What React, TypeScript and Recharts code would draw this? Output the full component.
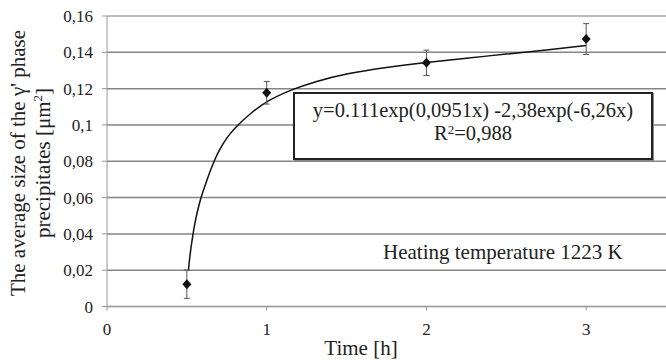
import { ComposedChart, Line, Scatter, ErrorBar, XAxis, YAxis, CartesianGrid, Label, ReferenceLine } from 'recharts';

// measured points (time [h], mean size [um^2], error)
const times = [0.5, 1, 2, 3];
const sizes = [0.0123, 0.1177, 0.1342, 0.1473];
const errors = [0.0078, 0.0062, 0.007, 0.0085];

// fitted curve
const fitTimes = [0.51, 0.52, 0.535, 0.55, 0.565, 0.585, 0.6, 0.625, 0.65, 0.675, 0.7, 0.75, 0.8, 0.9, 1.0, 1.15, 1.3, 1.5, 1.75, 2.0, 2.25, 2.5, 2.75, 3.0];
const fitSizes = [0.02, 0.029, 0.038, 0.046, 0.052, 0.059, 0.063, 0.0695, 0.0755, 0.081, 0.0857, 0.093, 0.0985, 0.1065, 0.1132, 0.1193, 0.1238, 0.1283, 0.1318, 0.1345, 0.1368, 0.139, 0.1413, 0.1437];

const xTicks = [0, 1, 2, 3];
const yTicks = [0, 0.02, 0.04, 0.06, 0.08, 0.1, 0.12, 0.14, 0.16];

const FONT = '"Liberation Serif", "Times New Roman", serif';
const TEXT = '#222';

const points = times.map((t, i) => ({ x: t, y: sizes[i], err: errors[i] }));
const curve = fitTimes.map((t, i) => ({ x: t, y: fitSizes[i] }));

const Diamond = (props: any) => {
  const { cx, cy } = props;
  return <path d={`M${cx},${cy - 5} L${cx + 4.5},${cy} L${cx},${cy + 5} L${cx - 4.5},${cy} Z`} fill="#111" />;
};

const YTitle = () => (
  <g fontFamily={FONT} fontSize={21} fill={TEXT}>
    <text transform="translate(25,163) rotate(-90)" textAnchor="middle">The average size of the γ' phase</text>
    <text transform="translate(50,163) rotate(-90)" textAnchor="middle">
      precipitates [μm<tspan dy={-8} fontSize={13}>2</tspan><tspan dy={8}>]</tspan>
    </text>
  </g>
);

const XTitle = () => (
  <text x={361} y={355} textAnchor="middle" fontFamily={FONT} fontSize={21} fill={TEXT}>Time [h]</text>
);

export default function App() {
  return (
    <div style={{ position: 'absolute', left: 0, top: 0, width: 666, height: 360, background: '#fff', overflow: 'hidden' }}>
      <ComposedChart width={666} height={360} margin={{ top: 16, right: 0, bottom: 0, left: 0 }}>
        <CartesianGrid horizontal vertical={false} stroke="#858585" strokeWidth={1.5} />
        <ReferenceLine y={0.16} stroke="#c4c4c4" strokeWidth={1.5} />
        <XAxis
          type="number"
          dataKey="x"
          domain={[0, 3.5]}
          ticks={xTicks}
          height={53.5}
          stroke="#999"
          tickSize={4}
          tickMargin={12}
          tick={{ fontFamily: FONT, fontSize: 17, fill: TEXT }}
          allowDataOverflow
        >
          <Label content={<XTitle />} />
        </XAxis>
        <YAxis
          type="number"
          domain={[0, 0.16]}
          ticks={yTicks}
          width={107}
          stroke="#999"
          tickSize={5}
          tickMargin={9}
          tickFormatter={(v: number) => String(v).replace('.', ',')}
          tick={{ fontFamily: FONT, fontSize: 17, fill: TEXT }}
        >
          <Label content={<YTitle />} />
        </YAxis>
        <Line
          data={curve}
          dataKey="y"
          type="basis"
          stroke="#111"
          strokeWidth={1.5}
          dot={false}
          isAnimationActive={false}
        />
        <Scatter data={points} dataKey="y" shape={<Diamond />} isAnimationActive={false}>
          <ErrorBar dataKey="err" direction="y" width={3} stroke="#555" strokeWidth={1} />
        </Scatter>
      </ComposedChart>
      <div
        style={{
          position: 'absolute', left: 293, top: 92, width: 356, height: 59,
          border: '2px solid #222', background: '#fff', fontFamily: FONT, fontSize: 20.5,
          color: TEXT, textAlign: 'center', lineHeight: '23px', paddingTop: 5, boxSizing: 'content-box',
          boxShadow: '1px 1px 0 #888', whiteSpace: 'nowrap',
        }}
      >
        <div>y=0.111exp(0,0951x) -2,38exp(-6,26x)</div>
        <div>R<sup style={{ fontSize: 13, verticalAlign: 'top', lineHeight: '16px' }}>2</sup>=0,988</div>
      </div>
      <div style={{ position: 'absolute', left: 383, top: 239, fontFamily: FONT, fontSize: 21, lineHeight: '26px', color: TEXT, whiteSpace: 'nowrap' }}>
        Heating temperature 1223 K
      </div>
    </div>
  );
}
